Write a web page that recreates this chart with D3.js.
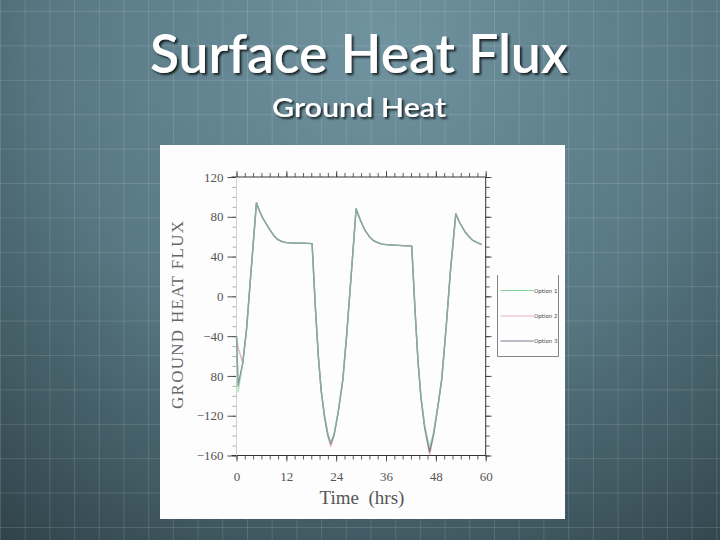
<!DOCTYPE html>
<html><head><meta charset="utf-8">
<script src="https://cdn.jsdelivr.net/npm/d3@7"></script>
<style>html,body{margin:0;padding:0;background:#2e3e45;}svg{display:block;}</style>
</head><body>
<script>
// ---- data ----
const hours  = [0, 0.4, 1.5, 2.4, 3.5, 4.8, 5.5, 6.3, 7, 8, 9, 10, 11, 12, 14, 16, 18.2, 19, 19.7, 20.4, 21.2, 22, 22.7, 23.5, 24.5, 25.6, 26.5, 27.5, 28.8, 29.5, 30.3, 31, 32, 33, 34, 35, 36, 38, 40, 42.2, 43, 43.7, 44.4, 45.3, 46.5, 47.5, 48.5, 49.4, 50.5, 51.5, 52.8, 53.5, 54.3, 55, 56, 57, 58, 59];
const option1 = [-40, -96, -67, -34, 25, 94, 86, 79, 74, 67, 61, 57, 55, 54, 53.5, 53.5, 53, -12, -60, -95, -120, -138, -147, -138, -116, -84, -40, 15, 88, 80, 72, 66, 60, 56, 54, 52.5, 52, 51.5, 51, 50.5, -15, -65, -100, -130, -152, -136, -110, -84, -30, 25, 83, 76, 70, 65, 60, 56, 54, 52];
const option2 = [-40, -52, -67, -34, 25, 94, 86, 79, 74, 67, 61, 57, 55, 54, 53.5, 53.5, 53, -12, -60, -96, -122, -141, -151, -140, -117, -84, -40, 15, 88, 80, 72, 66, 60, 56, 54, 52.5, 52, 51.5, 51, 50.5, -15, -66, -102, -133, -159, -139, -111, -84, -30, 25, 83, 76, 70, 65, 60, 56, 54, 52];
const option3 = [-40, -90, -67, -34, 25, 94, 86, 79, 74, 67, 61, 57, 55, 54, 53.5, 53.5, 53, -12, -60, -95, -121, -139, -148, -139, -116, -84, -40, 15, 88, 80, 72, 66, 60, 56, 54, 52.5, 52, 51.5, 51, 50.5, -15, -65, -101, -131, -156, -137, -110, -84, -30, 25, 83, 76, 70, 65, 60, 56, 54, 52];
const seriesNames = ["Option 1", "Option 2", "Option 3"];
const xTicks = [0, 12, 24, 36, 48, 60];
const yTicks = [-160, -120, -80, -40, 0, 40, 80, 120];
const yTickLabels = ["\u2212160", "\u2212120", "80", "\u221240", "0", "40", "80", "120"];
const colors = ["#86d39c", "#e8b4c0", "#7a7a90"];

const W = 720, H = 540;
const svg = d3.select("body").append("svg").attr("width", W).attr("height", H);
const defs = svg.append("defs");
const rg = defs.append("radialGradient").attr("id", "bg").attr("gradientUnits", "userSpaceOnUse")
  .attr("cx", 380).attr("cy", 40).attr("r", 720);
rg.append("stop").attr("offset", "0").attr("stop-color", "#7093a0");
rg.append("stop").attr("offset", "0.45").attr("stop-color", "#587984");
rg.append("stop").attr("offset", "1").attr("stop-color", "#243238");
svg.append("rect").attr("width", W).attr("height", H).attr("fill", "url(#bg)");

// grid pattern
const grid = svg.append("g").attr("stroke", "#ffffff").attr("stroke-opacity", 0.13).attr("stroke-width", 1);
d3.range(0, W + 1, 24.7).forEach(x => grid.append("line").attr("x1", x + 0.5).attr("x2", x + 0.5).attr("y1", 0).attr("y2", H));
d3.range(11.5, H + 1, 34.4).forEach(y => grid.append("line").attr("x1", 0).attr("x2", W).attr("y1", y).attr("y2", y));

// title
const shadow = defs.append("filter").attr("id", "sh").attr("x", "-10%").attr("y", "-20%").attr("width", "120%").attr("height", "150%");
shadow.append("feDropShadow").attr("dx", 2).attr("dy", 2).attr("stdDeviation", 1).attr("flood-color", "#000").attr("flood-opacity", 0.75);
svg.append("text").attr("x", 359).attr("y", 73).attr("text-anchor", "middle")
  .attr("font-family", "Lato, 'Open Sans', sans-serif").attr("font-weight", 600).attr("font-size", 53)
  .attr("fill", "#fff").attr("filter", "url(#sh)")
  .attr("textLength", 418).attr("lengthAdjust", "spacingAndGlyphs").text("Surface Heat Flux");
svg.append("text").attr("x", 359).attr("y", 117).attr("text-anchor", "middle")
  .attr("font-family", "Lato, 'Open Sans', sans-serif").attr("font-weight", 600).attr("font-size", 26)
  .attr("fill", "#fff").attr("filter", "url(#sh)")
  .attr("textLength", 174).attr("lengthAdjust", "spacingAndGlyphs").text("Ground Heat");

// white panel
svg.append("rect").attr("x", 160).attr("y", 145).attr("width", 405).attr("height", 374).attr("fill", "#fdfdfd");

// scales
const x = d3.scaleLinear().domain([0, 60]).range([236.5, 485.7]);
const y = d3.scaleLinear().domain([-160, 120]).range([455.5, 177]);
const serif = "'Liberation Serif', 'DejaVu Serif', serif";
const axCol = "#333";

// axes
const xb = svg.append("g").attr("transform", `translate(0,${y(-160)})`)
  .call(d3.axisBottom(x).tickValues(d3.range(0, 61, 2)).tickSize(4).tickFormat(""));
const xbMaj = svg.append("g").attr("transform", `translate(0,${y(-160)})`)
  .call(d3.axisBottom(x).tickValues(xTicks).tickSize(6).tickPadding(10).tickFormat(d3.format("d")));
const xt = svg.append("g").attr("transform", `translate(0,${y(120)})`)
  .call(d3.axisTop(x).tickValues(d3.range(0, 61, 2)).tickSize(4).tickFormat(""));
const xtMaj = svg.append("g").attr("transform", `translate(0,${y(120)})`)
  .call(d3.axisTop(x).tickValues(xTicks).tickSize(6).tickFormat(""));
const yl = svg.append("g").attr("transform", `translate(${x(0)},0)`)
  .call(d3.axisLeft(y).tickValues(d3.range(-160, 121, 10)).tickSize(4).tickFormat(""));
const ylMaj = svg.append("g").attr("transform", `translate(${x(0)},0)`)
  .call(d3.axisLeft(y).tickValues(yTicks).tickSize(9).tickPadding(4).tickFormat((d, i) => yTickLabels[i]));
const yr = svg.append("g").attr("transform", `translate(${x(60)},0)`)
  .call(d3.axisRight(y).tickValues(d3.range(-160, 121, 10)).tickSize(4).tickFormat(""));
const yrMaj = svg.append("g").attr("transform", `translate(${x(60)},0)`)
  .call(d3.axisRight(y).tickValues(yTicks).tickSize(6).tickFormat(""));
[xb, xbMaj, xt, xtMaj, yl, ylMaj, yr, yrMaj].forEach(g => {
  g.select(".domain").remove();
  g.selectAll("line").attr("stroke", axCol).attr("stroke-width", 0.8);
  g.selectAll("text").attr("font-family", serif).attr("font-size", 13).attr("fill", "#555");
});
yl.selectAll("line").attr("stroke", "#999");
ylMaj.selectAll("line").attr("stroke", "#222");
// frame lines
const frame = svg.append("g").attr("stroke-width", 1);
frame.append("line").attr("x1", x(0) - 5).attr("x2", x(60)).attr("y1", y(120)).attr("y2", y(120)).attr("stroke", axCol);
frame.append("line").attr("x1", x(0) - 5).attr("x2", x(60)).attr("y1", y(-160)).attr("y2", y(-160)).attr("stroke", axCol);
frame.append("line").attr("x1", x(60)).attr("x2", x(60)).attr("y1", y(120)).attr("y2", y(-160)).attr("stroke", axCol);
frame.append("line").attr("x1", x(0)).attr("x2", x(0)).attr("y1", y(120)).attr("y2", y(-160)).attr("stroke", "#d0d0d0");

// axis titles
svg.append("text").attr("x", 362).attr("y", 504).attr("text-anchor", "middle")
  .attr("font-family", serif).attr("font-size", 19).attr("fill", "#555")
  .attr("xml:space", "preserve").text("Time  (hrs)");
svg.append("text").attr("transform", "translate(183,315) rotate(-90)").attr("text-anchor", "middle")
  .attr("font-family", serif).attr("font-size", 17).attr("fill", "#666")
  .attr("textLength", 188).attr("lengthAdjust", "spacing").text("GROUND  HEAT  FLUX");

// lines
const allSeries = [option1, option2, option3];
const line = d3.line().x((d, i) => x(hours[i])).y(d => y(d));
[[1, 1], [2, 1], [0, 0.6]].forEach(([k, op]) => {
  svg.append("path").datum(allSeries[k]).attr("d", line).attr("fill", "none")
    .attr("stroke", colors[k]).attr("stroke-opacity", op).attr("stroke-width", 1.4).attr("stroke-linejoin", "round");
});

// legend
const lg = svg.append("g");
lg.append("path").attr("d", "M497.5,275 V356.5 H558.5 V275").attr("fill", "none").attr("stroke", "#666").attr("stroke-width", 0.8);
const legY = [290.5, 316, 341];
seriesNames.forEach((n, i) => {
  lg.append("line").attr("x1", 500.5).attr("x2", 533.5).attr("y1", legY[i]).attr("y2", legY[i])
    .attr("stroke", colors[i]).attr("stroke-width", 1);
  lg.append("text").attr("x", 534).attr("y", legY[i] + 2).attr("font-family", "'DejaVu Sans', sans-serif")
    .attr("font-size", 5.5).attr("fill", "#444").text(n);
});
</script>
</body></html>
